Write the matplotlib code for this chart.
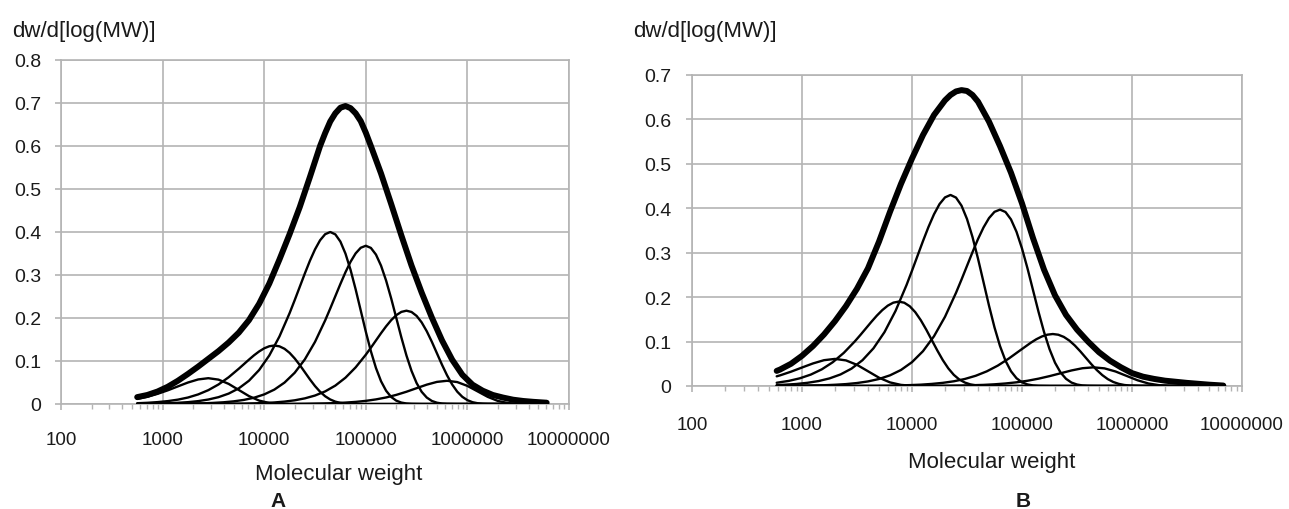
import matplotlib
matplotlib.use("Agg")
import matplotlib.pyplot as plt
import numpy as np
from matplotlib.ticker import LogLocator, NullFormatter

# Panel A: log10(MW) positions and dw/dlog(MW) values
A_TOTAL_LOGM = [2.75, 2.85, 2.95, 3.05, 3.15, 3.25, 3.35, 3.45, 3.55, 3.65, 3.75,
                3.85, 3.95, 4.05, 4.15, 4.25, 4.35, 4.45, 4.55, 4.6, 4.65, 4.7,
                4.75, 4.8, 4.85, 4.9, 4.95, 5.0, 5.05, 5.15, 5.25, 5.35, 5.45,
                5.55, 5.65, 5.75, 5.85, 5.95, 6.05, 6.15, 6.25, 6.35, 6.45, 6.55,
                6.65, 6.78]
A_TOTAL = [0.016, 0.021, 0.029, 0.040, 0.054, 0.070, 0.087, 0.105, 0.123, 0.143,
           0.166, 0.195, 0.233, 0.280, 0.336, 0.395, 0.458, 0.528, 0.600, 0.630,
           0.657, 0.676, 0.689, 0.693, 0.688, 0.676, 0.658, 0.631, 0.600, 0.536,
           0.465, 0.392, 0.322, 0.259, 0.201, 0.148, 0.103, 0.068, 0.045, 0.031,
           0.021, 0.015, 0.010, 0.007, 0.005, 0.003]

A_C1_LOGM = [2.75, 2.85, 2.95, 3.05, 3.15, 3.25, 3.35, 3.45, 3.55, 3.65, 3.75,
             3.85, 3.95, 4.05, 4.15, 4.25, 6.78]
A_C1 = [0.0118, 0.0169, 0.0236, 0.0317, 0.0409, 0.0500, 0.0571, 0.0600, 0.0567,
        0.0468, 0.0326, 0.0184, 0.0079, 0.0024, 0.0005, 0.0, 0.0]

A_C2_LOGM = [2.75, 2.85, 2.95, 3.05, 3.15, 3.25, 3.35, 3.45, 3.55, 3.65, 3.75,
             3.8, 3.85, 3.9, 3.95, 4.0, 4.05, 4.1, 4.15, 4.2, 4.25, 4.3, 4.35,
             4.4, 4.45, 4.5, 4.55, 4.6, 4.65, 4.7, 4.75, 4.8, 4.9, 6.78]
A_C2 = [0.0018, 0.0028, 0.0044, 0.0067, 0.0101, 0.0151, 0.0223, 0.0322, 0.0454,
        0.0622, 0.0821, 0.0926, 0.1032, 0.1133, 0.1222, 0.1295, 0.1343, 0.1360,
        0.1341, 0.1284, 0.1189, 0.1060, 0.0907, 0.0740, 0.0572, 0.0417, 0.0285,
        0.0180, 0.0105, 0.0055, 0.0026, 0.0011, 0.0, 0.0]

A_C3_LOGM = [2.75, 2.85, 2.95, 3.05, 3.15, 3.25, 3.35, 3.45, 3.55, 3.65, 3.75,
             3.85, 3.95, 4.05, 4.15, 4.25, 4.3, 4.35, 4.4, 4.45, 4.5, 4.55, 4.6,
             4.65, 4.7, 4.75, 4.8, 4.85, 4.9, 4.95, 5.0, 5.05, 5.1, 5.15, 5.2,
             5.25, 5.3, 5.35, 5.4, 5.45, 5.55, 6.78]
A_C3 = [0.0004, 0.0007, 0.0011, 0.0018, 0.0028, 0.0043, 0.0067, 0.0104, 0.0159,
        0.0242, 0.0364, 0.0541, 0.0790, 0.1128, 0.1570, 0.2113, 0.2414, 0.2725,
        0.3035, 0.3332, 0.3595, 0.3808, 0.3949, 0.4000, 0.3945, 0.3777, 0.3497,
        0.3119, 0.2667, 0.2176, 0.1683, 0.1227, 0.0837, 0.0529, 0.0308, 0.0163,
        0.0078, 0.0033, 0.0012, 0.0004, 0.0, 0.0]

A_C4_LOGM = [2.75, 3.4, 3.5, 3.6, 3.7, 3.8, 3.9, 4.0, 4.1, 4.2, 4.3, 4.4, 4.5,
             4.6, 4.65, 4.7, 4.75, 4.8, 4.85, 4.9, 4.95, 5.0, 5.05, 5.1, 5.15,
             5.2, 5.25, 5.3, 5.35, 5.4, 5.45, 5.5, 5.55, 5.6, 5.65, 5.7, 5.75,
             5.8, 5.9, 6.78]
A_C4 = [0.0001, 0.0016, 0.0026, 0.0040, 0.0062, 0.0095, 0.0146, 0.0223, 0.0335,
        0.0498, 0.0726, 0.1038, 0.1444, 0.1944, 0.2221, 0.2507, 0.2792, 0.3065,
        0.3308, 0.3503, 0.3633, 0.3680, 0.3630, 0.3475, 0.3217, 0.2869, 0.2454,
        0.2002, 0.1549, 0.1129, 0.0770, 0.0487, 0.0283, 0.0150, 0.0071, 0.0030,
        0.0011, 0.0004, 0.0, 0.0]

A_C5_LOGM = [2.75, 3.8, 3.9, 4.0, 4.1, 4.2, 4.3, 4.4, 4.5, 4.6, 4.7, 4.8, 4.9,
             5.0, 5.05, 5.1, 5.15, 5.2, 5.25, 5.3, 5.35, 5.4, 5.45, 5.5, 5.55,
             5.6, 5.65, 5.7, 5.75, 5.8, 5.85, 5.9, 5.95, 6.0, 6.05, 6.1, 6.15,
             6.2, 6.3, 6.78]
A_C5 = [0.0, 0.0010, 0.0015, 0.0023, 0.0036, 0.0056, 0.0086, 0.0131, 0.0197,
        0.0293, 0.0428, 0.0612, 0.0852, 0.1146, 0.1309, 0.1478, 0.1647, 0.1807,
        0.1950, 0.2066, 0.2142, 0.2170, 0.2140, 0.2049, 0.1897, 0.1692, 0.1447,
        0.1180, 0.0913, 0.0666, 0.0454, 0.0287, 0.0167, 0.0089, 0.0042, 0.0018,
        0.0007, 0.0002, 0.0, 0.0]

A_C6_LOGM = [2.75, 4.2, 4.4, 4.6, 4.7, 4.8, 4.9, 5.0, 5.1, 5.2, 5.3, 5.4, 5.5,
             5.6, 5.7, 5.8, 5.9, 6.0, 6.1, 6.2, 6.3, 6.4, 6.5, 6.6, 6.78]
A_C6 = [0.0, 0.0002, 0.0006, 0.0014, 0.0021, 0.0033, 0.0049, 0.0073, 0.0107,
        0.0152, 0.0212, 0.0285, 0.0368, 0.0450, 0.0514, 0.0540, 0.0510, 0.0421,
        0.0294, 0.0166, 0.0071, 0.0022, 0.0004, 0.0001, 0.0]

# Panel B
B_TOTAL_LOGM = [2.77, 2.8, 2.9, 3.0, 3.1, 3.2, 3.3, 3.4, 3.5, 3.6, 3.7, 3.8, 3.9,
                4.0, 4.1, 4.2, 4.3, 4.35, 4.4, 4.45, 4.5, 4.55, 4.6, 4.7, 4.8,
                4.9, 5.0, 5.1, 5.2, 5.3, 5.4, 5.5, 5.6, 5.7, 5.8, 5.9, 6.0, 6.1,
                6.2, 6.3, 6.4, 6.5, 6.6, 6.7, 6.83]
B_TOTAL = [0.034, 0.037, 0.050, 0.068, 0.090, 0.116, 0.146, 0.180, 0.219, 0.265,
           0.325, 0.392, 0.455, 0.512, 0.565, 0.610, 0.643, 0.655, 0.663, 0.666,
           0.664, 0.655, 0.640, 0.595, 0.540, 0.480, 0.411, 0.333, 0.262, 0.204,
           0.160, 0.127, 0.100, 0.076, 0.057, 0.042, 0.029, 0.021, 0.016, 0.012,
           0.0095, 0.007, 0.005, 0.003, 0.001]

B_C1_LOGM = [2.77, 2.8, 2.9, 3.0, 3.1, 3.2, 3.3, 3.4, 3.5, 3.6, 3.7, 3.8, 3.9,
             4.0, 4.1, 6.83]
B_C1 = [0.0218, 0.0239, 0.0322, 0.0416, 0.0508, 0.0581, 0.0610, 0.0576, 0.0476,
        0.0332, 0.0187, 0.0081, 0.0025, 0.0005, 0.0001, 0.0]

B_C2_LOGM = [2.77, 2.88, 2.98, 3.08, 3.18, 3.28, 3.38, 3.48, 3.53, 3.58, 3.63,
             3.68, 3.73, 3.78, 3.83, 3.88, 3.93, 3.98, 4.03, 4.08, 4.13, 4.18,
             4.23, 4.28, 4.33, 4.38, 4.43, 4.48, 4.53, 4.58, 4.63, 4.68, 6.83]
B_C2 = [0.0073, 0.0115, 0.0173, 0.0257, 0.0375, 0.0536, 0.0746, 0.1004, 0.1146,
        0.1294, 0.1442, 0.1583, 0.1708, 0.1809, 0.1876, 0.1900, 0.1874, 0.1794,
        0.1661, 0.1481, 0.1267, 0.1033, 0.0800, 0.0583, 0.0397, 0.0251, 0.0146,
        0.0078, 0.0037, 0.0016, 0.0006, 0.0002, 0.0]

B_C3_LOGM = [2.77, 2.85, 2.95, 3.05, 3.15, 3.25, 3.35, 3.45, 3.55, 3.65, 3.75,
             3.85, 3.95, 4.0, 4.05, 4.1, 4.15, 4.2, 4.25, 4.3, 4.35, 4.4, 4.45,
             4.5, 4.55, 4.6, 4.65, 4.7, 4.75, 4.8, 4.85, 4.9, 4.95, 5.0, 5.05,
             5.1, 5.15, 5.25, 6.83]
B_C3 = [0.0021, 0.0030, 0.0046, 0.0072, 0.0111, 0.0171, 0.0260, 0.0391, 0.0581,
        0.0849, 0.1213, 0.1688, 0.2271, 0.2595, 0.2929, 0.3263, 0.3581, 0.3865,
        0.4094, 0.4245, 0.4300, 0.4241, 0.4060, 0.3759, 0.3353, 0.2867, 0.2339,
        0.1809, 0.1319, 0.0900, 0.0569, 0.0331, 0.0175, 0.0083, 0.0035, 0.0013,
        0.0004, 0.0, 0.0]

B_C4_LOGM = [2.77, 3.2, 3.3, 3.4, 3.5, 3.6, 3.7, 3.8, 3.9, 4.0, 4.1, 4.2, 4.3,
             4.4, 4.45, 4.5, 4.55, 4.6, 4.65, 4.7, 4.75, 4.8, 4.85, 4.9, 4.95,
             5.0, 5.05, 5.1, 5.15, 5.2, 5.25, 5.3, 5.35, 5.4, 5.45, 5.5, 5.55,
             5.6, 5.7, 6.83]
B_C4 = [0.0002, 0.0017, 0.0028, 0.0043, 0.0067, 0.0103, 0.0158, 0.0240, 0.0361,
        0.0537, 0.0784, 0.1120, 0.1558, 0.2097, 0.2395, 0.2704, 0.3012, 0.3307,
        0.3568, 0.3779, 0.3920, 0.3970, 0.3916, 0.3749, 0.3471, 0.3095, 0.2647,
        0.2159, 0.1671, 0.1218, 0.0831, 0.0525, 0.0306, 0.0162, 0.0077, 0.0033,
        0.0012, 0.0004, 0.0, 0.0]

B_C5_LOGM = [2.77, 3.68, 3.78, 3.88, 3.98, 4.08, 4.18, 4.28, 4.38, 4.48, 4.58,
             4.68, 4.78, 4.88, 4.98, 5.08, 5.13, 5.18, 5.23, 5.28, 5.33, 5.38,
             5.43, 5.48, 5.53, 5.58, 5.63, 5.68, 5.73, 5.78, 5.83, 5.88, 5.93,
             5.98, 6.08, 6.83]
B_C5 = [0.0, 0.0005, 0.0008, 0.0013, 0.0020, 0.0030, 0.0047, 0.0071, 0.0106,
        0.0158, 0.0231, 0.0330, 0.0459, 0.0618, 0.0797, 0.0974, 0.1052, 0.1114,
        0.1155, 0.1170, 0.1154, 0.1105, 0.1023, 0.0912, 0.0780, 0.0636, 0.0492,
        0.0359, 0.0245, 0.0155, 0.0090, 0.0048, 0.0023, 0.0010, 0.0001, 0.0]

B_C6_LOGM = [2.77, 4.05, 4.25, 4.45, 4.65, 4.75, 4.85, 4.95, 5.05, 5.15, 5.25,
             5.35, 5.45, 5.55, 5.65, 5.75, 5.85, 5.95, 6.05, 6.15, 6.25, 6.35,
             6.45, 6.83]
B_C6 = [0.0, 0.0002, 0.0005, 0.0011, 0.0025, 0.0038, 0.0057, 0.0083, 0.0118,
        0.0165, 0.0222, 0.0286, 0.0350, 0.0400, 0.0420, 0.0397, 0.0327, 0.0228,
        0.0129, 0.0056, 0.0017, 0.0003, 0.0, 0.0]

X_TICKS = [1e2, 1e3, 1e4, 1e5, 1e6, 1e7]
X_TICK_LABELS = ["100", "1000", "10000", "100000", "1000000", "10000000"]
Y_TICK_LABELS = ["0", "0.1", "0.2", "0.3", "0.4", "0.5", "0.6", "0.7", "0.8"]

GRID = "#b4b4b4"
W, H = 1289, 510
TICK_FONT = "Liberation Sans"
LABEL_FONT = "Liberation Sans"


def draw_panel(ax, total, comps, ymax, xpad, ypad):
    for logm, vals in comps:
        ax.plot(10 ** np.array(logm), vals, color="black", lw=1.7,
                solid_capstyle="round", solid_joinstyle="round", zorder=3)
    logm, vals = total
    ax.plot(10 ** np.array(logm), vals, color="black", lw=4.3,
            solid_capstyle="round", solid_joinstyle="round", zorder=4)

    ax.set_xscale("log")
    ax.set_xlim(1e2, 1e7)
    ax.set_ylim(0, ymax)
    ax.set_xticks(X_TICKS, labels=X_TICK_LABELS)
    ax.xaxis.set_minor_locator(LogLocator(base=10, subs=np.arange(2, 10)))
    ax.xaxis.set_minor_formatter(NullFormatter())
    n = int(round(ymax * 10)) + 1
    ax.set_yticks(np.linspace(0, ymax, n), labels=Y_TICK_LABELS[:n])

    ax.grid(True, which="major", color=GRID, lw=1.2)
    ax.set_axisbelow(True)
    for s in ax.spines.values():
        s.set_color(GRID)
        s.set_linewidth(1.2)
    ax.tick_params(axis="x", which="major", length=4, width=1.2, color=GRID,
                   pad=xpad, labelsize=13.5, labelcolor="#1a1a1a")
    ax.tick_params(axis="x", which="minor", length=3.5, width=1.0, color=GRID)
    ax.tick_params(axis="y", which="major", length=4, width=1.2, color=GRID,
                   pad=ypad, labelsize=14, labelcolor="#1a1a1a")
    for lab in ax.get_xticklabels() + ax.get_yticklabels():
        lab.set_fontfamily(TICK_FONT)


fig = plt.figure(figsize=(W / 100, H / 100), dpi=100)

axA = fig.add_axes([61 / W, 1 - 405 / H, 508 / W, 344 / H])
draw_panel(axA, (A_TOTAL_LOGM, A_TOTAL),
           [(A_C1_LOGM, A_C1), (A_C2_LOGM, A_C2), (A_C3_LOGM, A_C3),
            (A_C4_LOGM, A_C4), (A_C5_LOGM, A_C5), (A_C6_LOGM, A_C6)],
           0.8, xpad=15.5, ypad=10)

axB = fig.add_axes([692 / W, 1 - 387 / H, 550 / W, 311 / H])
draw_panel(axB, (B_TOTAL_LOGM, B_TOTAL),
           [(B_C1_LOGM, B_C1), (B_C2_LOGM, B_C2), (B_C3_LOGM, B_C3),
            (B_C4_LOGM, B_C4), (B_C5_LOGM, B_C5), (B_C6_LOGM, B_C6)],
           0.7, xpad=17.5, ypad=11)

txt = dict(family=LABEL_FONT, color="#1a1a1a")
fig.text(12 / W, 1 - 31 / H, "dw/d[log(MW)]", fontsize=16, ha="left", va="center", **txt)
fig.text(633 / W, 1 - 31 / H, "dw/d[log(MW)]", fontsize=16, ha="left", va="center", **txt)
fig.text(339 / W, 1 - 475 / H, "Molecular weight", fontsize=16, ha="center", va="center", **txt)
fig.text(992 / W, 1 - 463 / H, "Molecular weight", fontsize=16, ha="center", va="center", **txt)
fig.text(278 / W, 1 - 502 / H, "A", fontsize=15, fontweight="bold", ha="center", va="center", **txt)
fig.text(1023 / W, 1 - 502 / H, "B", fontsize=15, fontweight="bold", ha="center", va="center", **txt)

fig.savefig("out.png", dpi=100)
